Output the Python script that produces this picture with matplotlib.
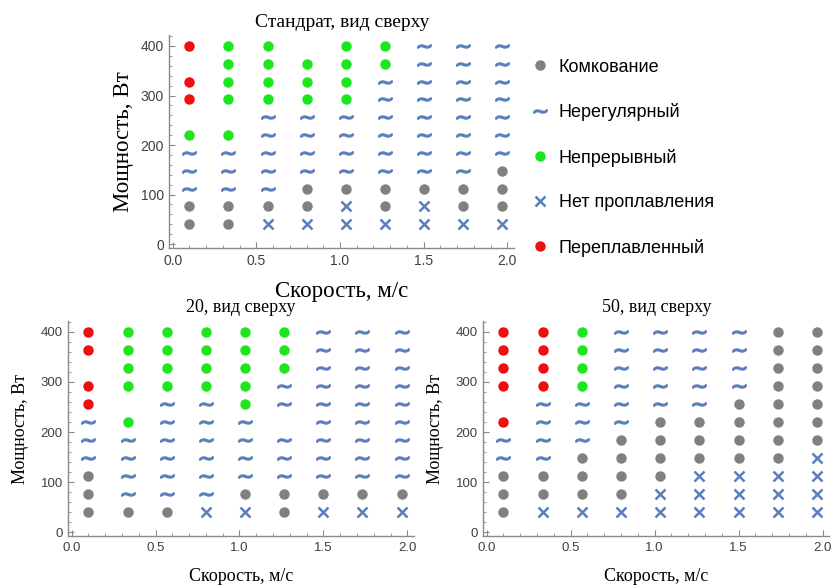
import matplotlib.pyplot as plt
from matplotlib.lines import Line2D
from matplotlib.ticker import MultipleLocator

# скорость (м/с) и мощность (Вт) сетки режимов
speeds = [0.1, 0.333, 0.567, 0.8, 1.033, 1.267, 1.5, 1.733, 1.967]
powers = [400, 364, 328, 292, 256, 220, 184, 148, 112, 76, 40]

# K - комкование, N - нерегулярный, C - непрерывный,
# X - нет проплавления, R - переплавленный, . - нет данных
grid_standard = [
    "RCC.CCNNN",
    ".CCCCCNNN",
    "RCCCCNNNN",
    "RCCCCNNNN",
    "..NNNNNNN",
    "CCNNNNNNN",
    "NNNNNNNNN",
    "NNNNNNNNK",
    "NNNKKKKKK",
    "KKKKXKXKK",
    "KKXXXXXXX",
]
grid_20 = [
    "RCCCCCNNN",
    "RCCCCCNNN",
    ".CCCCCNNN",
    "RCCCCNNNN",
    "R.NNCNNNN",
    "NCNNN.NNN",
    "NNNNNNNNN",
    "NNNNNNNNN",
    "KNNNNNNNN",
    "KNNNKKKKK",
    "KKKXXKXXX",
]
grid_50 = [
    "RRCNNNNKK",
    "RRCNNNNKK",
    "RRCNNNNKK",
    "RRCNNNNKK",
    ".NNNNNKKK",
    "RNNNKKKKK",
    "NNNKKKKKK",
    "NNKKKKKKX",
    "KKKKKXXXX",
    "KKKKXXXXX",
    "KXXXXXXXX",
]

labels = {
    "K": "Комкование",
    "N": "Нерегулярный",
    "C": "Непрерывный",
    "X": "Нет проплавления",
    "R": "Переплавленный",
}
blue = "#5b7fbd"
styles = {
    "K": dict(marker="o", color="#808080", markersize=6.5, linestyle="none"),
    "N": dict(marker="$\\sim$", color=blue, markersize=9.5, linestyle="none"),
    "C": dict(marker="o", color="#1ee61e", markersize=6.5, linestyle="none"),
    "X": dict(marker="x", color=blue, markersize=6.5, markeredgewidth=1.8,
              linestyle="none"),
    "R": dict(marker="o", color="#f20d0d", markersize=6.5, linestyle="none"),
}

serif = ["Liberation Serif", "DejaVu Serif"]
sans = ["Liberation Sans", "DejaVu Sans"]
axis_col = "#8a8a8a"
tick_col = "#404040"


def draw_panel(ax, grid, title, title_size, label_size, tick_size, ylabelpad):
    for code in styles:
        xs, ys = [], []
        for power, row in zip(powers, grid):
            for speed, c in zip(speeds, row):
                if c == code:
                    xs.append(speed)
                    ys.append(power)
        ax.plot(xs, ys, **styles[code])
    ax.set_xlim(-0.02, 2.04)
    ax.set_ylim(-8, 422)
    ax.xaxis.set_major_locator(MultipleLocator(0.5))
    ax.xaxis.set_minor_locator(MultipleLocator(0.1))
    ax.yaxis.set_major_locator(MultipleLocator(100))
    ax.yaxis.set_minor_locator(MultipleLocator(20))
    ax.xaxis.set_major_formatter(plt.FuncFormatter(lambda v, p: f"{v:.1f}"))
    for side in ("top", "right"):
        ax.spines[side].set_visible(False)
    for side in ("left", "bottom"):
        ax.spines[side].set_color(axis_col)
        ax.spines[side].set_linewidth(1.0)
    ax.tick_params(which="major", direction="in", length=4, color=axis_col,
                   labelsize=tick_size, labelcolor=tick_col, pad=4)
    ax.tick_params(which="minor", direction="in", length=2, color=axis_col)
    for lab in ax.get_xticklabels() + ax.get_yticklabels():
        lab.set_family(sans)
    ax.set_title(title, family=serif, fontsize=title_size, pad=6)
    ax.set_xlabel("Скорость, м/с", family=serif, fontsize=label_size,
                  labelpad=10)
    ax.set_ylabel("Мощность, Вт", family=serif, fontsize=label_size,
                  labelpad=ylabelpad)


fig = plt.figure(figsize=(8.34, 5.88), dpi=100)
ax_top = fig.add_axes([0.2031, 0.5782, 0.4132, 0.3621])
ax_20 = fig.add_axes([0.0819, 0.0879, 0.4145, 0.3667])
ax_50 = fig.add_axes([0.5795, 0.0879, 0.4149, 0.3667])

draw_panel(ax_top, grid_standard, "Стандрат, вид сверху", 14, 16.5, 10, 5)
draw_panel(ax_20, grid_20, "20, вид сверху", 13, 13, 9.5, 8)
draw_panel(ax_50, grid_50, "50, вид сверху", 13, 13, 9.5, 8)

handles = [Line2D([], [], **styles[c]) for c in labels]
fig.legend(handles, list(labels.values()), loc="upper left",
           bbox_to_anchor=(0.6367, 0.9), frameon=False, handlelength=1.0,
           handletextpad=0.55, labelspacing=1.52, borderpad=0,
           borderaxespad=0, prop={"family": sans, "size": 13})

fig.savefig("out.png", dpi=100)
